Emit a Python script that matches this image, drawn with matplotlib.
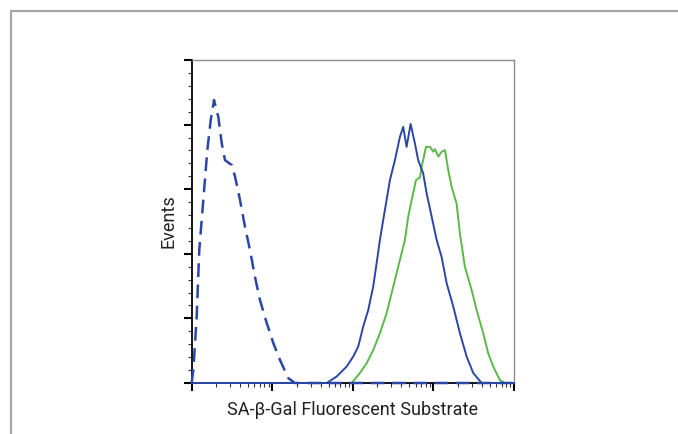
import numpy as np
import matplotlib
matplotlib.use("Agg")
import matplotlib.pyplot as plt
from matplotlib.lines import Line2D
from matplotlib.ticker import LogLocator, MultipleLocator, NullFormatter

plt.rcParams["font.family"] = ["Roboto", "DejaVu Sans"]

# log10 of fluorescence, events scaled 0-100
ctrl_lx = [0.0, 0.02, 0.062, 0.094, 0.144, 0.194, 0.236, 0.277, 0.33, 0.372, 0.413, 0.496,
           0.537, 0.599, 0.661, 0.723, 0.785, 0.847, 0.931, 1.012, 1.096, 1.199, 1.28, 4.0]
ctrl_y = [0, 4.0, 20.6, 41.2, 56.7, 72.1, 81.4, 87.6, 82.4, 74.3, 69.0, 67.5,
          64.0, 56.7, 48.4, 41.2, 32.9, 25.7, 18.6, 12.4, 7.1, 1.5, 0, 0]

blue_lx = [0.0, 1.675, 1.799, 1.923, 2.005, 2.067, 2.129, 2.191, 2.253, 2.295, 2.336, 2.377,
           2.419, 2.46, 2.522, 2.584, 2.625, 2.667, 2.717, 2.77, 2.811, 2.873, 2.916, 2.978,
           3.04, 3.102, 3.164, 3.246, 3.329, 3.412, 3.494, 3.598, 4.0]
blue_y = [0, 0, 2.0, 5.1, 8.2, 11.3, 17.5, 22.6, 29.9, 37.1, 44.3, 50.5,
          56.7, 62.8, 69.0, 76.2, 79.3, 73.1, 80.2, 74.2, 69.0, 64.9, 58.7, 51.5,
          44.3, 39.0, 30.9, 23.7, 15.4, 8.2, 3.1, 0, 0]

green_lx = [1.985, 2.088, 2.171, 2.253, 2.336, 2.419, 2.481, 2.543, 2.584, 2.646, 2.687, 2.73,
            2.783, 2.833, 2.854, 2.882, 2.907, 2.957, 2.998, 3.019, 3.06, 3.102, 3.143, 3.184,
            3.226, 3.288, 3.329, 3.391, 3.474, 3.536, 3.618, 3.68, 3.742, 3.825, 3.887, 4.0]
green_y = [0, 3.1, 6.1, 10.2, 15.4, 21.6, 27.8, 34.0, 38.1, 44.3, 51.5, 56.7,
           62.8, 63.7, 67.0, 70.1, 73.1, 73.1, 71.6, 72.4, 70.1, 71.6, 72.1, 65.9,
           60.7, 55.5, 46.2, 35.9, 28.8, 22.6, 15.4, 9.2, 5.1, 0.9, 0, 0]

x_label = "SA-β-Gal Fluorescent Substrate"
y_label = "Events"

blue = "#2b47a6"
green = "#5cb84a"

fig = plt.figure(figsize=(6.78, 4.34), dpi=100)

# outer grey frame
fig.add_artist(Line2D([11/678, 11/678, 1.0], [0.0, 1-11/434, 1-11/434],
                      transform=fig.transFigure, color="#a6a6a6", lw=1.6))

ax = fig.add_axes([191.7/678, 1-383/434, (514-191.7)/678, (383-60)/434])

ax.plot(10**np.array(green_lx), green_y, color=green, lw=1.4, clip_on=False, zorder=3)
ax.plot(10**np.array(blue_lx), blue_y, color=blue, lw=1.4, clip_on=False, zorder=4)
ax.plot(10**np.array(ctrl_lx), ctrl_y, color=blue, lw=1.8, ls=(0, (5.5, 3)),
        clip_on=False, zorder=5)

ax.set_xscale("log")
ax.set_xlim(1, 1e4)
ax.set_ylim(0, 100)

ax.xaxis.set_major_locator(LogLocator(base=10, numticks=10))
ax.xaxis.set_minor_locator(LogLocator(base=10, subs=np.arange(2, 10), numticks=10))
ax.xaxis.set_major_formatter(NullFormatter())
ax.xaxis.set_minor_formatter(NullFormatter())
ax.yaxis.set_major_locator(MultipleLocator(20))
ax.yaxis.set_minor_locator(MultipleLocator(4))
ax.yaxis.set_major_formatter(NullFormatter())

ax.tick_params(which="major", direction="out", length=6, width=1.5, color="black")
ax.tick_params(which="minor", direction="out", length=3, width=0.8, color="#333333")
ax.tick_params(top=False, right=False, which="both")

for s in ["left", "bottom"]:
    ax.spines[s].set_linewidth(1.3)
    ax.spines[s].set_color("black")
for s in ["top", "right"]:
    ax.spines[s].set_linewidth(1.0)
    ax.spines[s].set_color("#8c8c8c")

ax.set_xlabel(x_label, fontsize=13, color="#222222", va="center")
ax.xaxis.set_label_coords(0.5, -(410-383)/323)
ax.set_ylabel(y_label, fontsize=13, color="#222222", va="center")
ax.yaxis.set_label_coords(-(191.7-168)/322.3, 0.5)

fig.savefig("out.png", dpi=100)
